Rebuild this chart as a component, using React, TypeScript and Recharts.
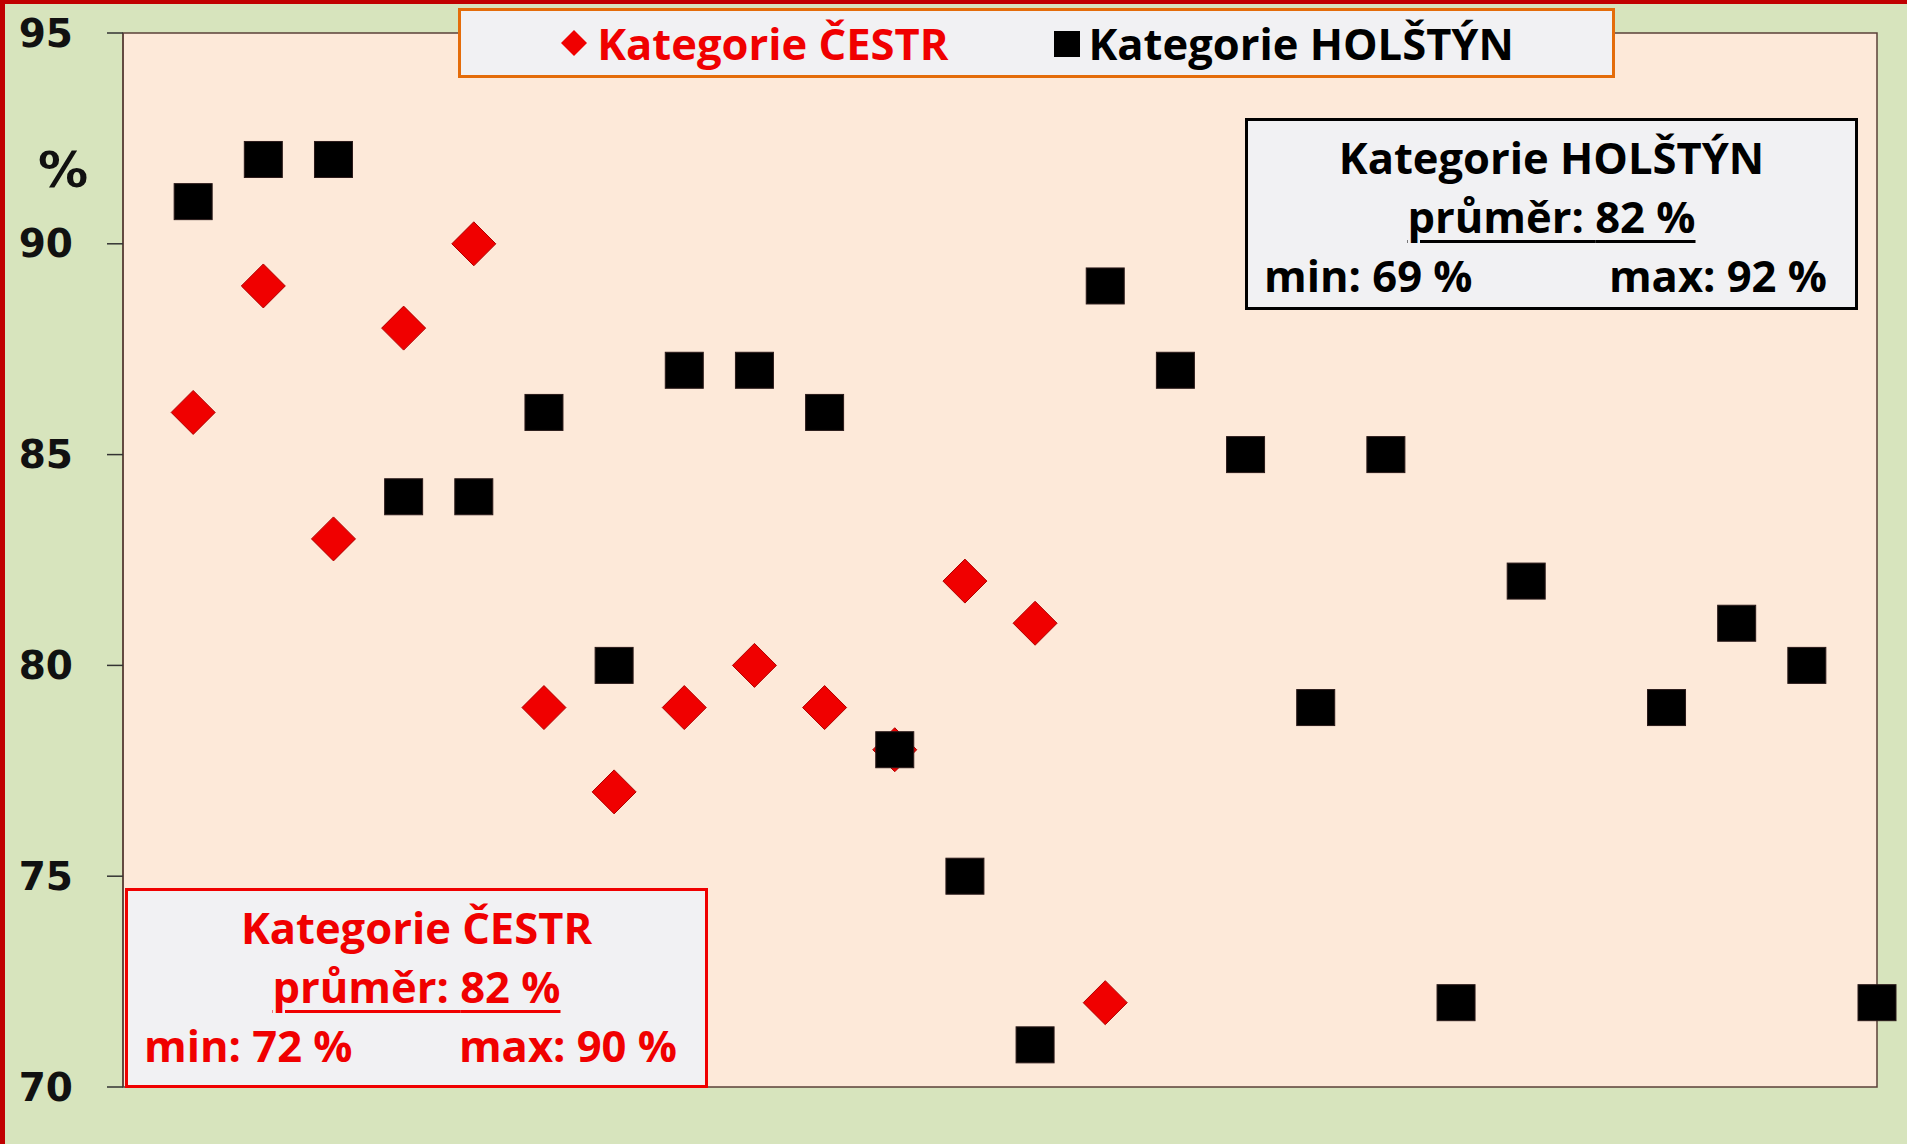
import { CartesianGrid, ReferenceArea, Scatter, ScatterChart, XAxis, YAxis } from "recharts";

const POSITIONS = [1, 2, 3, 4, 5, 6, 7, 8, 9, 10, 11, 12, 13, 14, 15, 16, 17, 18, 19, 20, 21, 22, 23, 24, 25];
const CESTR = [86, 89, 83, 88, 90, 79, 77, 79, 80, 79, 78, 82, 81, 72];
const HOLSTYN = [91, 92, 92, 84, 84, 86, 80, 87, 87, 86, 78, 75, 71, 89, 87, 85, 79, 85, 72, 82, null, 79, 81, 80, 72];
const Y_TICKS = [70, 75, 80, 85, 90, 95];

const toPoints = (vals: (number | null)[]) =>
  vals
    .map((v, i) => ({ x: POSITIONS[i], y: v }))
    .filter((p) => p.y !== null);

const RED = "#f00000";
const AXIS_FONT = "'DejaVu Sans', Verdana, sans-serif";
const BOX_FONT = "'Open Sans', 'Noto Sans', sans-serif";

function Diamond({ cx, cy }: any) {
  const r = 22;
  return (
    <polygon
      points={`${cx},${cy - r} ${cx + r},${cy} ${cx},${cy + r} ${cx - r},${cy}`}
      fill={RED}
      stroke="#b00000"
      strokeWidth={1}
    />
  );
}

function Square({ cx, cy }: any) {
  return <rect x={cx - 19} y={cy - 18} width={38} height={36} fill="#000" stroke="#2a1a1a" strokeWidth={1} />;
}

function YTick({ x, y, payload }: any) {
  return (
    <text x={x} y={y} textAnchor="end" dominantBaseline="central" fontFamily={AXIS_FONT} fontWeight="bold" fontSize={39} fill="#111">
      {payload.value}
    </text>
  );
}

function StatBox({ title, avg, min, max, color, style }: any) {
  return (
    <div
      style={{
        position: "absolute",
        boxSizing: "border-box",
        background: "#f1f1f3",
        border: `3px solid ${color}`,
        fontFamily: BOX_FONT,
        fontWeight: 700,
        fontSize: 43.5,
        color,
        lineHeight: "59px",
        textAlign: "center",
        paddingTop: 7,
        whiteSpace: "nowrap",
        ...style,
      }}
    >
      <div>{title}</div>
      <div>
        <span style={{ textDecoration: "underline", textUnderlineOffset: 7, textDecorationThickness: 3 }}>průměr: {avg} %</span>
      </div>
      <div style={{ display: "flex", justifyContent: "space-between", padding: "0 28px 0 16px" }}>
        <span>min: {min} %</span>
        <span>max: {max} %</span>
      </div>
    </div>
  );
}

export default function App() {
  return (
    <div
      style={{
        position: "absolute",
        left: 0,
        top: 0,
        width: 1907,
        height: 1144,
        boxSizing: "border-box",
        background: "#d7e4bd",
        borderTop: "4px solid #c00000",
        borderLeft: "5px solid #c00000",
        overflow: "hidden",
      }}
    >
      <div style={{ position: "absolute", left: -5, top: -4 }}>
        <ScatterChart width={1907} height={1144} margin={{ top: 33, right: 30, bottom: 57, left: 0 }}>
          <CartesianGrid fill="#fde9d9" stroke="none" horizontal={false} vertical={false} />
          <XAxis type="number" dataKey="x" domain={[0, 25]} hide height={0} />
          <YAxis
            type="number"
            dataKey="y"
            domain={[70, 95]}
            ticks={Y_TICKS}
            width={123}
            tickSize={16}
            tickMargin={34}
            tick={<YTick />}
            axisLine={{ stroke: "#5b4038", strokeWidth: 1.5 }}
            tickLine={{ stroke: "#333", strokeWidth: 1.5 }}
          />
          <ReferenceArea x1={0} x2={25} y1={70} y2={95} fill="none" stroke="#5b4038" strokeWidth={1.5} ifOverflow="visible" />
          <Scatter name="Kategorie ČESTR" data={toPoints(CESTR)} shape={<Diamond />} isAnimationActive={false} />
          <Scatter name="Kategorie HOLŠTÝN" data={toPoints(HOLSTYN)} shape={<Square />} isAnimationActive={false} />
        </ScatterChart>
      </div>

      <div
        style={{
          position: "absolute",
          left: 38 - 5,
          top: 140 - 4,
          fontFamily: AXIS_FONT,
          fontWeight: "bold",
          fontSize: 50,
          lineHeight: "60px",
          color: "#111",
        }}
      >
        %
      </div>

      <div
        style={{
          position: "absolute",
          left: 458 - 5,
          top: 8 - 4,
          width: 1157,
          height: 70,
          boxSizing: "border-box",
          background: "#f1f1f3",
          border: "3px solid #e46c0a",
          display: "flex",
          alignItems: "center",
          justifyContent: "center",
          gap: 104,
          fontFamily: BOX_FONT,
          fontWeight: 700,
          fontSize: 43.5,
          whiteSpace: "nowrap",
        }}
      >
        <span style={{ display: "flex", alignItems: "center", color: RED }}>
          <svg width={30} height={30} style={{ marginRight: 8 }}>
            <polygon points="15,2 28,15 15,28 2,15" fill={RED} />
          </svg>
          Kategorie ČESTR
        </span>
        <span style={{ display: "flex", alignItems: "center", color: "#000" }}>
          <svg width={30} height={30} style={{ marginRight: 6 }}>
            <rect x={2} y={3} width={26} height={26} fill="#000" />
          </svg>
          Kategorie HOLŠTÝN
        </span>
      </div>

      <StatBox
        title="Kategorie HOLŠTÝN"
        avg={82}
        min={69}
        max={92}
        color="#000"
        style={{ left: 1245 - 5, top: 118 - 4, width: 613, height: 192 }}
      />
      <StatBox
        title="Kategorie ČESTR"
        avg={82}
        min={72}
        max={90}
        color={RED}
        style={{ left: 125 - 5, top: 888 - 4, width: 583, height: 200 }}
      />
    </div>
  );
}
